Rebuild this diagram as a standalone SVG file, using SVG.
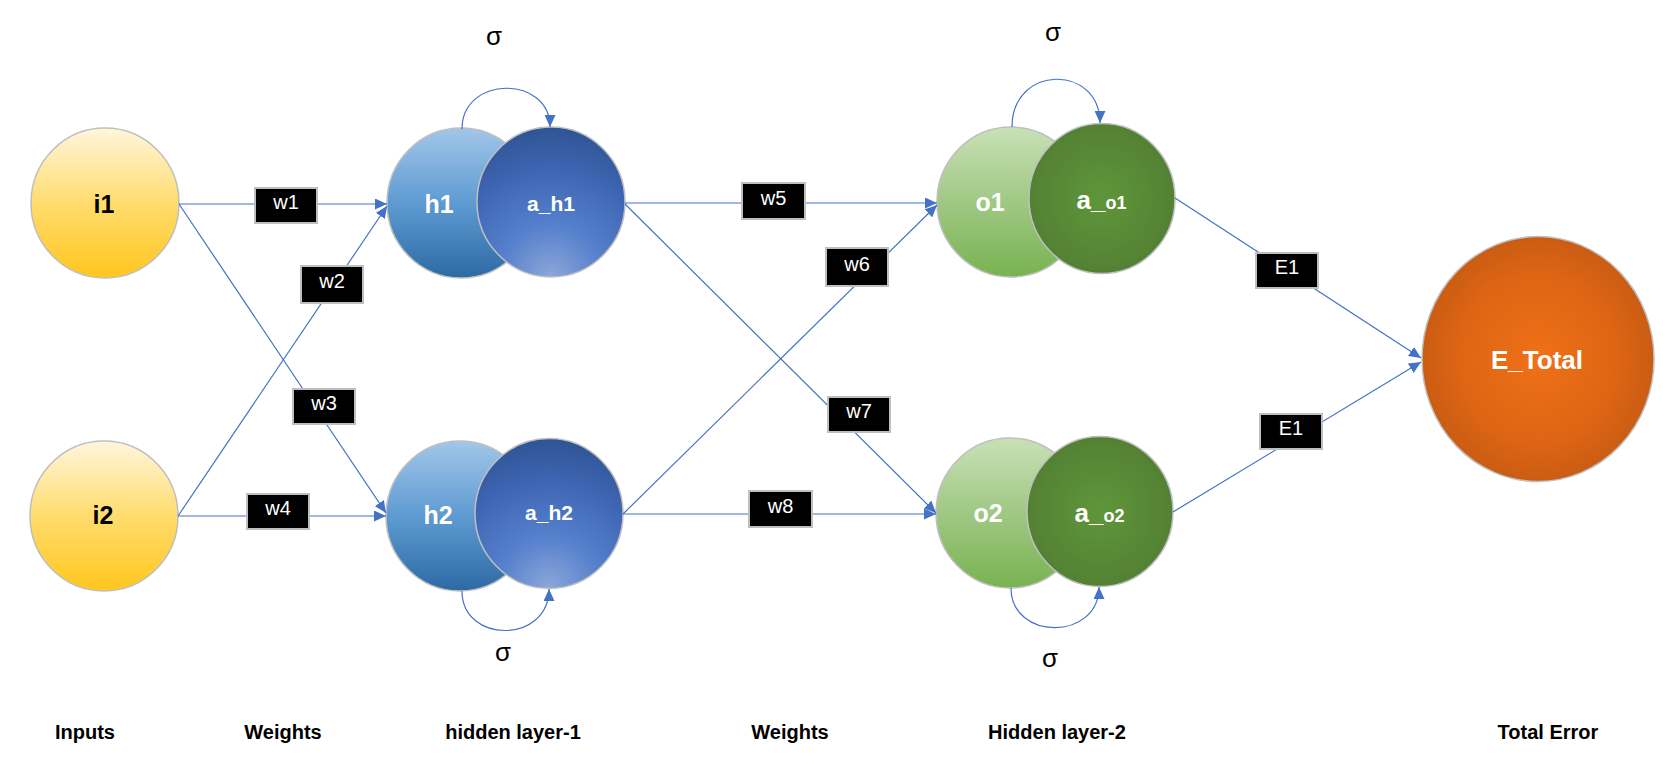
<svg xmlns="http://www.w3.org/2000/svg" width="1663" height="763" viewBox="0 0 1663 763">
<style>
.node{stroke:#BFBFBF;stroke-width:1.5}
.lbl{font-family:"Liberation Sans",Arial,sans-serif;font-weight:bold;text-anchor:middle}
.dark{fill:#000000}
.light{fill:#FFFFFF}
.sig{font-family:"Liberation Sans",Arial,sans-serif;font-size:26px;fill:#000;text-anchor:middle}
.cap{font-family:"Liberation Sans",Arial,sans-serif;font-size:20px;font-weight:bold;fill:#000;text-anchor:middle}
.edge{fill:none;stroke:#4472C4;stroke-width:1.2}
.arr{marker-end:url(#arr)}
.box{fill:#000;stroke:#BFBFBF;stroke-width:2}
.btxt{font-family:"Liberation Sans",Arial,sans-serif;font-size:20px;fill:#fff;text-anchor:middle}
</style>
<defs>
<marker id="arr" viewBox="0 0 12 11" refX="12" refY="5.5" markerWidth="12" markerHeight="11" markerUnits="userSpaceOnUse" orient="auto">
<path d="M0,0 L12,5.5 L0,11 z" fill="#4472C4"/>
</marker>
<linearGradient id="gIn" x1="0" y1="0" x2="0" y2="1">
<stop offset="0" stop-color="#FFF6DC"/>
<stop offset="0.5" stop-color="#FFDC6E"/>
<stop offset="1" stop-color="#FFC61C"/>
</linearGradient>
<linearGradient id="gH" x1="0" y1="0" x2="0" y2="1">
<stop offset="0" stop-color="#A2C6E8"/>
<stop offset="0.5" stop-color="#5E9BD2"/>
<stop offset="1" stop-color="#2D6AA4"/>
</linearGradient>
<radialGradient id="gAH" cx="0.5" cy="1" r="1.0" fx="0.5" fy="1">
<stop offset="0" stop-color="#8CA7DA"/>
<stop offset="0.35" stop-color="#5580CC"/>
<stop offset="0.7" stop-color="#3F66B4"/>
<stop offset="1" stop-color="#2F5494"/>
</radialGradient>
<linearGradient id="gO" x1="0" y1="0" x2="0" y2="1">
<stop offset="0" stop-color="#C8E1B6"/>
<stop offset="0.5" stop-color="#A0C884"/>
<stop offset="1" stop-color="#78B350"/>
</linearGradient>
<radialGradient id="gAO" cx="0.5" cy="0.5" r="0.55">
<stop offset="0" stop-color="#5F963A"/>
<stop offset="1" stop-color="#527F33"/>
</radialGradient>
<radialGradient id="gE" cx="0.5" cy="0.5" r="0.55">
<stop offset="0" stop-color="#EF7117"/>
<stop offset="0.6" stop-color="#DF6514"/>
<stop offset="1" stop-color="#C45A12"/>
</radialGradient>
</defs>

<rect x="0" y="0" width="1663" height="763" fill="#FFFFFF"/>

<g id="i1"><ellipse class="node" cx="105" cy="203" rx="74" ry="75" fill="url(#gIn)"/><text class="lbl dark" x="104" y="213" font-size="25">i1</text></g>
<g id="i2"><ellipse class="node" cx="104" cy="516" rx="74" ry="75" fill="url(#gIn)"/><text class="lbl dark" x="103" y="524" font-size="25">i2</text></g>

<g id="h1"><ellipse class="node" cx="461" cy="203" rx="74" ry="75" fill="url(#gH)"/><text class="lbl light" x="439" y="213" font-size="25">h1</text></g>
<g id="a_h1"><ellipse class="node" cx="551" cy="202" rx="74" ry="75" fill="url(#gAH)"/><text class="lbl light" x="551" y="211" font-size="21">a_h1</text></g>
<g id="h2"><ellipse class="node" cx="460" cy="516" rx="74" ry="75" fill="url(#gH)"/><text class="lbl light" x="438" y="524" font-size="25">h2</text></g>
<g id="a_h2"><ellipse class="node" cx="549" cy="513.5" rx="74" ry="75" fill="url(#gAH)"/><text class="lbl light" x="549" y="520" font-size="21">a_h2</text></g>

<g id="o1"><ellipse class="node" cx="1011" cy="202" rx="74" ry="75" fill="url(#gO)"/><text class="lbl light" x="990" y="211" font-size="25">o1</text></g>
<g id="a_o1"><ellipse class="node" cx="1102" cy="198.5" rx="73" ry="75" fill="url(#gAO)"/><text class="lbl light" x="1101.5" y="208.5"><tspan font-size="26">a_</tspan><tspan font-size="18">o1</tspan></text></g>
<g id="o2"><ellipse class="node" cx="1010" cy="513" rx="74" ry="75" fill="url(#gO)"/><text class="lbl light" x="988" y="522" font-size="25">o2</text></g>
<g id="a_o2"><ellipse class="node" cx="1100" cy="511.5" rx="73" ry="75" fill="url(#gAO)"/><text class="lbl light" x="1099.5" y="521.5"><tspan font-size="26">a_</tspan><tspan font-size="18">o2</tspan></text></g>

<g id="E_Total"><ellipse class="node" cx="1538" cy="359" rx="116" ry="122.5" fill="url(#gE)"/><text class="lbl light" x="1537" y="369" font-size="26">E_Total</text></g>

<g id="connectors">
<line class="edge arr" x1="179" y1="204" x2="387" y2="204"/>
<line class="edge arr" x1="179" y1="204" x2="386" y2="513"/>
<line class="edge arr" x1="178" y1="516" x2="387" y2="206"/>
<line class="edge arr" x1="178" y1="516" x2="386" y2="516"/>
<line class="edge arr" x1="625" y1="203" x2="937" y2="203"/>
<line class="edge arr" x1="625" y1="204" x2="936" y2="513"/>
<line class="edge arr" x1="623" y1="514" x2="937" y2="205"/>
<line class="edge arr" x1="623" y1="514" x2="936" y2="514"/>
<line class="edge arr" x1="1175" y1="198" x2="1421" y2="358"/>
<line class="edge arr" x1="1173" y1="512" x2="1421" y2="362"/>
<path class="edge arr" d="M462,129 C462,75 550,75 550,127"/>
<path class="edge arr" d="M462,591 C462,644 549,644 549,589"/>
<path class="edge arr" d="M1012,127 C1012,64 1100,64 1100,123"/>
<path class="edge arr" d="M1011,588 C1011,641 1099,641 1099,587"/>
<rect class="box" x="255" y="188" width="62" height="35"/><text class="btxt" x="286" y="209">w1</text>
<rect class="box" x="301" y="266" width="62" height="37"/><text class="btxt" x="332" y="288">w2</text>
<rect class="box" x="293" y="389" width="62" height="35"/><text class="btxt" x="324" y="410">w3</text>
<rect class="box" x="247" y="494" width="62" height="35"/><text class="btxt" x="278" y="515">w4</text>
<rect class="box" x="742" y="183" width="63" height="36"/><text class="btxt" x="773.5" y="204.5">w5</text>
<rect class="box" x="826" y="248" width="62" height="38"/><text class="btxt" x="857" y="270.5">w6</text>
<rect class="box" x="828" y="397" width="62" height="35"/><text class="btxt" x="859" y="418">w7</text>
<rect class="box" x="749" y="491" width="63" height="36"/><text class="btxt" x="780.5" y="512.5">w8</text>
<rect class="box" x="1256" y="253" width="62" height="35"/><text class="btxt" x="1287" y="274">E1</text>
<rect class="box" x="1260" y="414" width="62" height="35"/><text class="btxt" x="1291" y="435">E1</text>
</g>

<g id="sigmas">
<text class="sig" x="494" y="45">σ</text>
<text class="sig" x="503" y="661">σ</text>
<text class="sig" x="1053" y="41">σ</text>
<text class="sig" x="1050" y="667">σ</text>
</g>

<g id="captions">
<text class="cap" x="85" y="739">Inputs</text>
<text class="cap" x="283" y="739">Weights</text>
<text class="cap" x="513" y="739">hidden layer-1</text>
<text class="cap" x="790" y="739">Weights</text>
<text class="cap" x="1057" y="739">Hidden layer-2</text>
<text class="cap" x="1548" y="739">Total Error</text>
</g>
</svg>
